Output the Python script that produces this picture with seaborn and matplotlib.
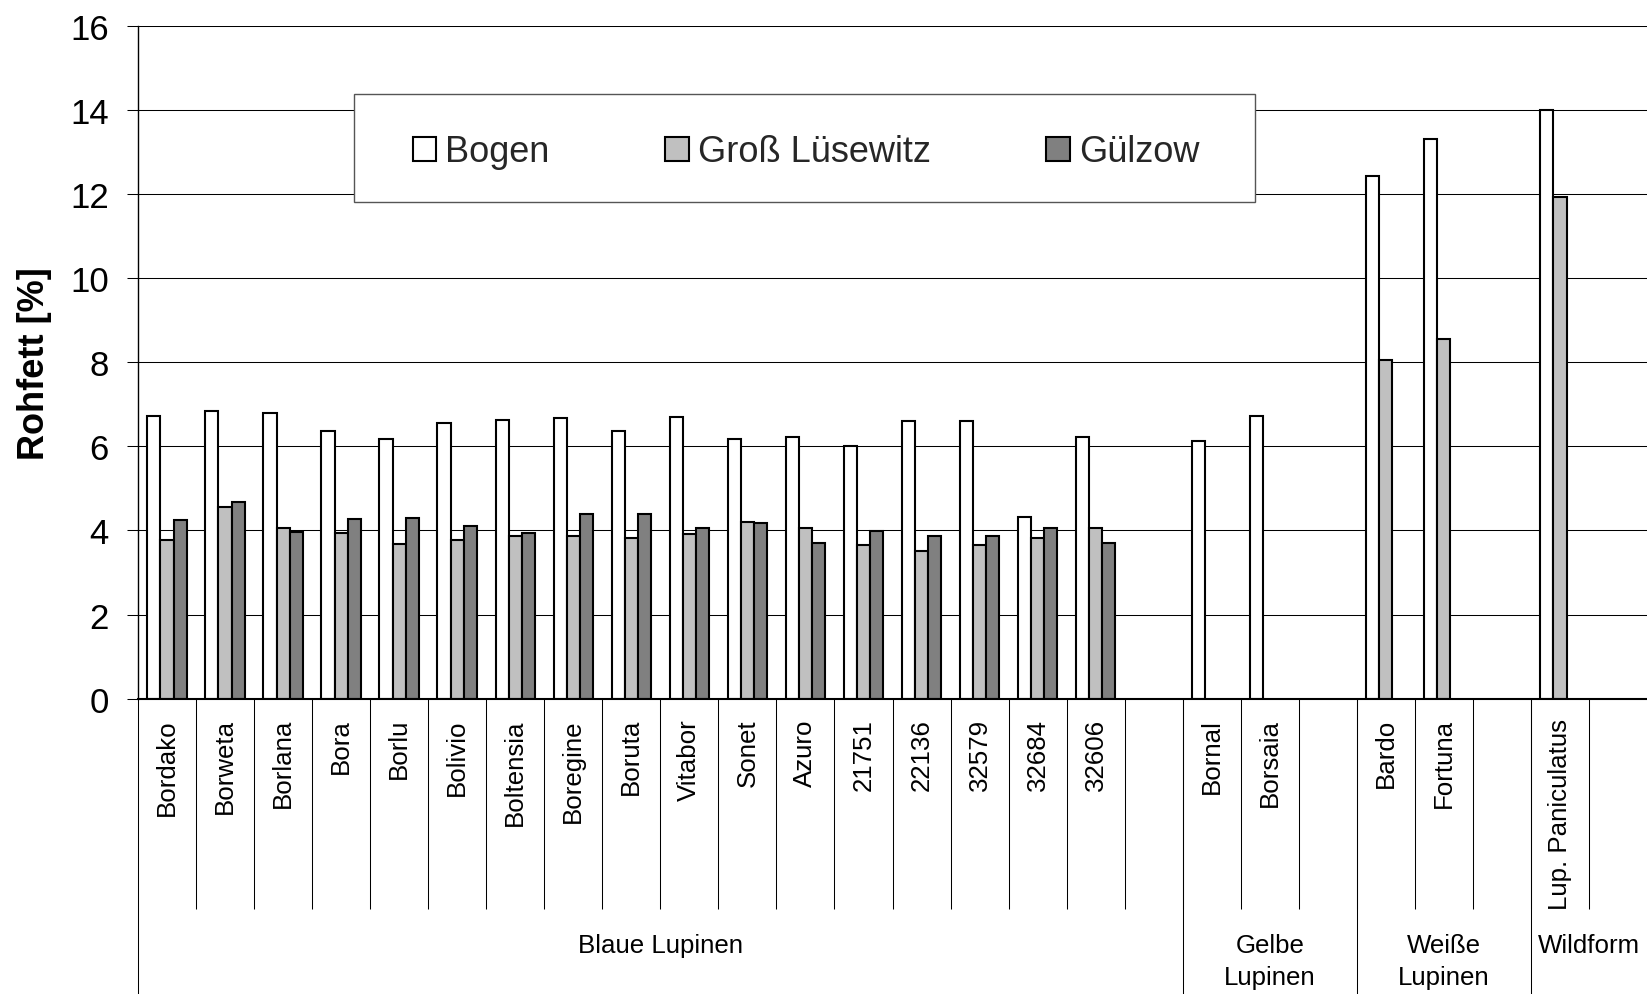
import numpy as np
import pandas as pd
import matplotlib
matplotlib.use("Agg")
import matplotlib.pyplot as plt
from matplotlib.patches import Rectangle
import seaborn as sns

nan = np.nan

# Sorten (leere Positionen trennen die Gruppen)
sorten = ["Bordako", "Borweta", "Borlana", "Bora", "Borlu", "Bolivio", "Boltensia",
          "Boregine", "Boruta", "Vitabor", "Sonet", "Azuro", "21751", "22136",
          "32579", "32684", "32606", " ",
          "Bornal", "Borsaia", "  ",
          "Bardo", "Fortuna", "   ",
          "Lup. Paniculatus", "    "]

bogen = [6.72, 6.84, 6.80, 6.37, 6.18, 6.55, 6.63, 6.67, 6.37, 6.69, 6.18, 6.23,
         6.01, 6.61, 6.61, 4.32, 6.23, nan,
         6.13, 6.72, nan,
         12.43, 13.32, nan,
         14.01, nan]
gross_luesewitz = [3.77, 4.55, 4.06, 3.94, 3.67, 3.78, 3.87, 3.86, 3.82, 3.92, 4.20, 4.06,
                   3.65, 3.52, 3.66, 3.81, 4.06, nan,
                   nan, nan, nan,
                   8.06, 8.56, nan,
                   11.93, nan]
guelzow = [4.24, 4.67, 3.97, 4.28, 4.29, 4.10, 3.94, 4.40, 4.39, 4.06, 4.18, 3.70,
           3.98, 3.86, 3.87, 4.05, 3.69, nan,
           nan, nan, nan,
           nan, nan, nan,
           nan, nan]

standorte = ["Bogen", "Groß Lüsewitz", "Gülzow"]
farben = ["#FFFFFF", "#C0C0C0", "#808080"]

gruppen = ["Blaue Lupinen", "Gelbe\nLupinen", "Weiße\nLupinen", "Wildform"]
gruppen_anzahl = [18, 3, 3, 2]

df = pd.DataFrame({
    "Sorte": sorten * 3,
    "Rohfett": bogen + gross_luesewitz + guelzow,
    "Standort": [s for s in standorte for _ in sorten],
}).dropna()

sns.set_theme(style="white")
plt.rcParams["font.family"] = ["Liberation Sans", "DejaVu Sans"]

W, H = 1647, 995
x0, y0, ytop = 138, 699.6, 27.0
fig = plt.figure(figsize=(W / 100, H / 100), dpi=100)
ax = fig.add_axes([x0 / W, 1 - y0 / H, 1 - x0 / W, (y0 - ytop) / H])

sns.barplot(data=df, x="Sorte", y="Rohfett", hue="Standort", order=sorten,
            hue_order=standorte, palette=farben, saturation=1, width=0.68,
            edgecolor="black", linewidth=1.5, errorbar=None, ax=ax)

ax.set_xlim(-0.5, len(sorten) - 0.5)
ax.set_ylim(0, 16)
ax.set_yticks(np.arange(0, 17, 2))
ax.set_axisbelow(True)
ax.yaxis.grid(True, color="black", linewidth=0.75)
ax.xaxis.grid(False)

for s in ["top", "right"]:
    ax.spines[s].set_visible(False)
ax.spines["left"].set_color("black")
ax.spines["left"].set_linewidth(1.0)
ax.spines["bottom"].set_color("black")
ax.spines["bottom"].set_linewidth(1.5)

ax.tick_params(axis="y", left=True, length=8, width=0.75, color="black",
               direction="out", pad=13, labelsize=25, labelcolor="black")
ax.set_xticks(range(len(sorten)))
ax.set_xticklabels(sorten, rotation=90, fontsize=18.6, color="black")
ax.tick_params(axis="x", which="major", length=0, pad=14)
ax.set_xticks(np.arange(0.5, len(sorten) - 1, 1.0), minor=True)
ax.tick_params(axis="x", which="minor", bottom=True, length=151, width=0.75,
               color="black", direction="out")

ax.set_xlabel("")
ax.set_ylabel("Rohfett [%]", fontsize=26, fontweight="bold", color="black", va="center")
ax.yaxis.set_label_coords((35 - x0) / (W - x0), 0.5)

# Gruppentrennlinien und Gruppennamen unter der Achse
xt = ax.get_xaxis_transform()
start = -0.5
for name, n in zip(gruppen, gruppen_anzahl):
    ax.plot([start, start], [0, -0.44], transform=xt, clip_on=False,
            color="black", linewidth=0.75)
    ax.text(start + n / 2, -(934 - y0) / (y0 - ytop), name, transform=xt,
            ha="center", va="top", fontsize=18.6, linespacing=1.42, color="black")
    start += n

# Legende mit eigenem Rahmen
ax.add_patch(Rectangle(((354 - x0) / (W - x0), (y0 - 203) / (y0 - ytop)),
                       901 / (W - x0), 108 / (y0 - ytop), transform=ax.transAxes,
                       facecolor="white", edgecolor="#555555", linewidth=1.0, zorder=3))
sns.move_legend(ax, loc="center",
                bbox_to_anchor=((806 - x0) / (W - x0), (y0 - 153) / (y0 - ytop)),
                ncol=3, frameon=False, title=None, fontsize=26,
                handlelength=0.65, handleheight=0.65, handletextpad=0.25,
                columnspacing=3.2)
leg = ax.get_legend()
leg.set_zorder(5)
for h in leg.legend_handles:
    h.set_edgecolor("black")
    h.set_linewidth(1.5)

fig.savefig("out.png", dpi=100)
